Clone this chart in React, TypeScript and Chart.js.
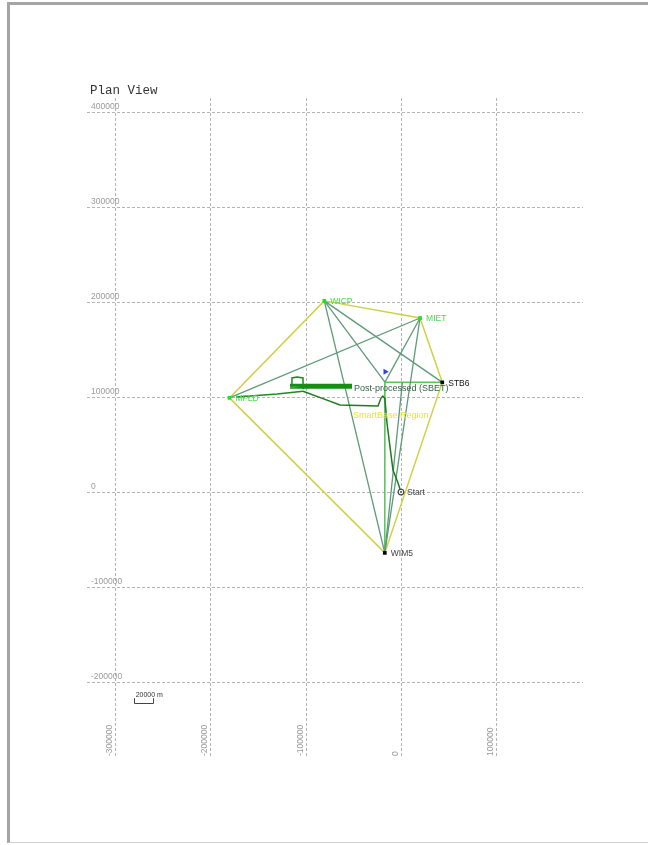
import React, { useEffect, useRef } from "react";
import { Chart, registerables } from "chart.js";

Chart.register(...registerables);

// ---- data (metres, plan coordinates) ----
const stationNames = ["WICP", "MIET", "STB6", "MFLD", "WIM5", "Start", "HUB", "HUB2"];
const stationX = [-80500, 20000, 43300, -180000, -17000, 0, -16800, 1500];
const stationY = [201000, 183000, 115300, 99000, -64000, 0, 115500, 115500];

const xGridTicks = [-300000, -200000, -100000, 0, 100000];
const yGridTicks = [400000, 300000, 200000, 100000, 0, -100000, -200000];
const xTickLabels = ["-300000", "-200000", "-100000", "0", "100000"];
const yTickLabels = ["400000", "300000", "200000", "100000", "0", "-100000", "-200000"];

const regionPolygon = ["WICP", "MIET", "STB6", "WIM5", "MFLD", "WICP"];
const baselinePairs = [
  ["WICP", "WIM5"],
  ["WICP", "STB6"],
  ["WICP", "HUB"],
  ["MIET", "MFLD"],
  ["MIET", "HUB"],
  ["MIET", "WIM5"],
  ["HUB2", "WIM5"],
];
const processedPairs = [
  ["HUB", "WIM5"],
  ["HUB", "STB6"],
];

// trajectory (post-processed SBET)
const trackThinX = [-173100, -130000, -102800];
const trackThinY = [99900, 103000, 106000];
const trackBarX = [-116500, -51400, -116500, -51400, -116500, -51400];
const trackBarY = [109800, 109800, 111200, 111200, 112600, 112600];
const trackLoopX = [-114400, -114400, -109100, -102800, -102800];
const trackLoopY = [110400, 119900, 120900, 119900, 108000];
const trackMainX = [-102800, -84000, -64000, -24100, -21000, -19000, -17500, -16800, -14700, -11500, -8400, -3100, 0];
const trackMainY = [106000, 99000, 91500, 90400, 98800, 100900, 99000, 96700, 72600, 47300, 23100, 9500, 0];

const flagX = [-16500];
const flagY = [126500];

const textLabels = ["Post-processed (SBET)", "SmartBase Region"];
const textLabelX = [-50400, -50400];
const textLabelY = [110400, 80000];

const scaleBarLength = 20000;
const scaleBarX = [-280500];
const scaleBarY = [-222000];

const pos = (name: string) => {
  const i = stationNames.indexOf(name);
  return { x: stationX[i], y: stationY[i] };
};

const App: React.FC = () => {
  const ref = useRef<HTMLCanvasElement | null>(null);

  useEffect(() => {
    if (!ref.current) return;

    const TEAL = "#5d9a78";
    const YELLOW = "#d0d046";

    const datasets: any[] = [];

    datasets.push({
      label: "region",
      data: regionPolygon.map(pos),
      showLine: true,
      borderColor: YELLOW,
      borderWidth: 1.5,
      pointRadius: 0,
      order: 5,
    });

    baselinePairs.forEach((p) => {
      datasets.push({
        label: "baseline",
        data: p.map(pos),
        showLine: true,
        borderColor: TEAL,
        borderWidth: 1.3,
        pointRadius: 0,
        order: 4,
      });
    });
    processedPairs.forEach((p) => {
      datasets.push({
        label: "processed",
        data: p.map(pos),
        showLine: true,
        borderColor: "#5cc45c",
        borderWidth: 1.5,
        pointRadius: 0,
        order: 4,
      });
    });

    const mk = (xs: number[], ys: number[]) => xs.map((x, i) => ({ x, y: ys[i] }));
    datasets.push({
      label: "trackThin",
      data: mk(trackThinX, trackThinY),
      showLine: true,
      borderColor: "#1e8a1e",
      borderWidth: 1.5,
      pointRadius: 0,
      order: 3,
    });
    datasets.push({
      label: "trackBar",
      data: mk(trackBarX, trackBarY),
      showLine: true,
      borderColor: "#129012",
      borderWidth: 2.2,
      pointRadius: 0,
      order: 3,
    });
    datasets.push({
      label: "trackLoop",
      data: mk(trackLoopX, trackLoopY),
      showLine: true,
      borderColor: "#1e8a1e",
      borderWidth: 1.5,
      pointRadius: 0,
      order: 3,
    });
    datasets.push({
      label: "trackMain",
      data: mk(trackMainX, trackMainY),
      showLine: true,
      borderColor: "#1e7a1e",
      borderWidth: 1.5,
      pointRadius: 0,
      order: 3,
    });

    // stations
    const greenSt = ["WICP", "MIET", "MFLD"];
    datasets.push({
      label: "greenStations",
      data: greenSt.map(pos),
      showLine: false,
      pointStyle: "rect",
      pointRadius: 2.6,
      backgroundColor: "#22dd22",
      borderColor: "#22dd22",
      borderWidth: 0,
      order: 1,
    });
    datasets.push({
      label: "blackStations",
      data: ["STB6", "WIM5"].map(pos),
      showLine: false,
      pointStyle: "rect",
      pointRadius: 2.6,
      backgroundColor: "#000",
      borderColor: "#000",
      borderWidth: 0,
      order: 1,
    });
    datasets.push({
      label: "start",
      data: [pos("Start")],
      showLine: false,
      pointStyle: "circle",
      pointRadius: 2.8,
      backgroundColor: "#ffffff",
      borderColor: "#444",
      borderWidth: 1.2,
      order: 1,
    });
    datasets.push({
      label: "startDot",
      data: [pos("Start")],
      showLine: false,
      pointStyle: "circle",
      pointRadius: 1,
      backgroundColor: "#444",
      borderColor: "#444",
      borderWidth: 0,
      order: 0,
    });
    datasets.push({
      label: "flag",
      data: mk(flagX, flagY),
      showLine: false,
      pointStyle: "triangle",
      rotation: 90,
      pointRadius: 3.5,
      backgroundColor: "#3344dd",
      borderColor: "#3344dd",
      borderWidth: 0,
      order: 1,
    });

    const decorPlugin = {
      id: "decor",
      beforeDatasetsDraw(chart: any) {
        const ctx = chart.ctx;
        const xs = chart.scales.x;
        const ys = chart.scales.y;
        const { left, right, top, bottom } = chart.chartArea;
        ctx.save();
        ctx.strokeStyle = "#b4b4b4";
        ctx.lineWidth = 1;
        ctx.setLineDash([3, 2]);
        yGridTicks.forEach((v) => {
          const py = Math.round(ys.getPixelForValue(v)) + 0.5;
          ctx.beginPath();
          ctx.moveTo(left, py);
          ctx.lineTo(right, py);
          ctx.stroke();
        });
        xGridTicks.forEach((v) => {
          const px = Math.round(xs.getPixelForValue(v)) + 0.5;
          ctx.beginPath();
          ctx.moveTo(px, top);
          ctx.lineTo(px, bottom);
          ctx.stroke();
        });
        ctx.setLineDash([]);
        // tick labels
        ctx.fillStyle = "#9a9a9a";
        ctx.font = "8.5px 'Liberation Sans', Arial, sans-serif";
        ctx.textAlign = "left";
        ctx.textBaseline = "alphabetic";
        yGridTicks.forEach((v, i) => {
          const py = ys.getPixelForValue(v);
          ctx.fillText(yTickLabels[i], 91, py - 3);
        });
        xGridTicks.forEach((v, i) => {
          const px = xs.getPixelForValue(v);
          ctx.save();
          ctx.translate(px - 3, bottom - 1);
          ctx.rotate(-Math.PI / 2);
          ctx.textAlign = "left";
          ctx.fillText(xTickLabels[i], 0, 0);
          ctx.restore();
        });
        // title
        ctx.fillStyle = "#333";
        ctx.font = "12.5px 'Liberation Mono', 'Courier New', monospace";
        ctx.textBaseline = "middle";
        ctx.fillText("Plan View", 90, 91);
        // scale bar
        const sx0 = xs.getPixelForValue(scaleBarX[0]);
        const sx1 = xs.getPixelForValue(scaleBarX[0] + scaleBarLength);
        const sy = ys.getPixelForValue(scaleBarY[0]);
        ctx.strokeStyle = "#444";
        ctx.lineWidth = 1;
        ctx.beginPath();
        ctx.moveTo(Math.round(sx0) + 0.5, sy - 5);
        ctx.lineTo(Math.round(sx0) + 0.5, Math.round(sy) + 0.5);
        ctx.lineTo(Math.round(sx1) + 0.5, Math.round(sy) + 0.5);
        ctx.lineTo(Math.round(sx1) + 0.5, sy - 5);
        ctx.stroke();
        ctx.fillStyle = "#333";
        ctx.font = "7px 'Liberation Sans', Arial, sans-serif";
        ctx.textBaseline = "alphabetic";
        ctx.fillText(scaleBarLength + " m", sx0 + 2, sy - 6);
        ctx.restore();
      },
      afterDatasetsDraw(chart: any) {
        const ctx = chart.ctx;
        const xs = chart.scales.x;
        const ys = chart.scales.y;
        ctx.save();
        ctx.textBaseline = "middle";
        ctx.textAlign = "left";
        const stLabel = (name: string, color: string) => {
          const p = pos(name);
          ctx.fillStyle = color;
          ctx.font = "8.5px 'Liberation Sans', Arial, sans-serif";
          ctx.fillText(name, xs.getPixelForValue(p.x) + 6, ys.getPixelForValue(p.y) + 1);
        };
        stLabel("WICP", "#44e044");
        stLabel("MIET", "#44e044");
        stLabel("MFLD", "#44e044");
        stLabel("STB6", "#111");
        stLabel("WIM5", "#444");
        stLabel("Start", "#444");
        ctx.font = "9px 'Liberation Sans', Arial, sans-serif";
        ctx.fillStyle = "#2f5f3f";
        ctx.fillText(textLabels[0], xs.getPixelForValue(textLabelX[0]) + 1, ys.getPixelForValue(textLabelY[0]) + 1);
        ctx.fillStyle = "#e6e636";
        ctx.fillText(textLabels[1], xs.getPixelForValue(textLabelX[1]), ys.getPixelForValue(textLabelY[1]));
        ctx.restore();
      },
    };

    const chart = new Chart(ref.current, {
      type: "scatter",
      data: { datasets },
      options: {
        animation: false,
        responsive: false,
        devicePixelRatio: 1,
        layout: { padding: { left: 87, right: 65, top: 98, bottom: 88 } },
        plugins: { legend: { display: false }, tooltip: { enabled: false } },
        scales: {
          x: { type: "linear", display: false, min: -329500, max: 191000 },
          y: { type: "linear", display: false, min: -278600, max: 414300 },
        },
      },
      plugins: [decorPlugin],
    });
    return () => chart.destroy();
  }, []);

  return (
    <div style={{ position: "absolute", left: 0, top: 0, width: 648, height: 845, overflow: "hidden", background: "#fff" }}>
      <div
        style={{
          position: "absolute",
          left: 7,
          top: 2,
          width: 641,
          height: 841,
          borderLeft: "3px solid #a4a4a4",
          borderTop: "3px solid #a4a4a4",
          borderBottom: "1px solid #cfcfcf",
          boxSizing: "border-box",
        }}
      />
      <canvas ref={ref} width={648} height={845} style={{ position: "absolute", left: 0, top: 0, width: 648, height: 845 }} />
    </div>
  );
};

export default App;
